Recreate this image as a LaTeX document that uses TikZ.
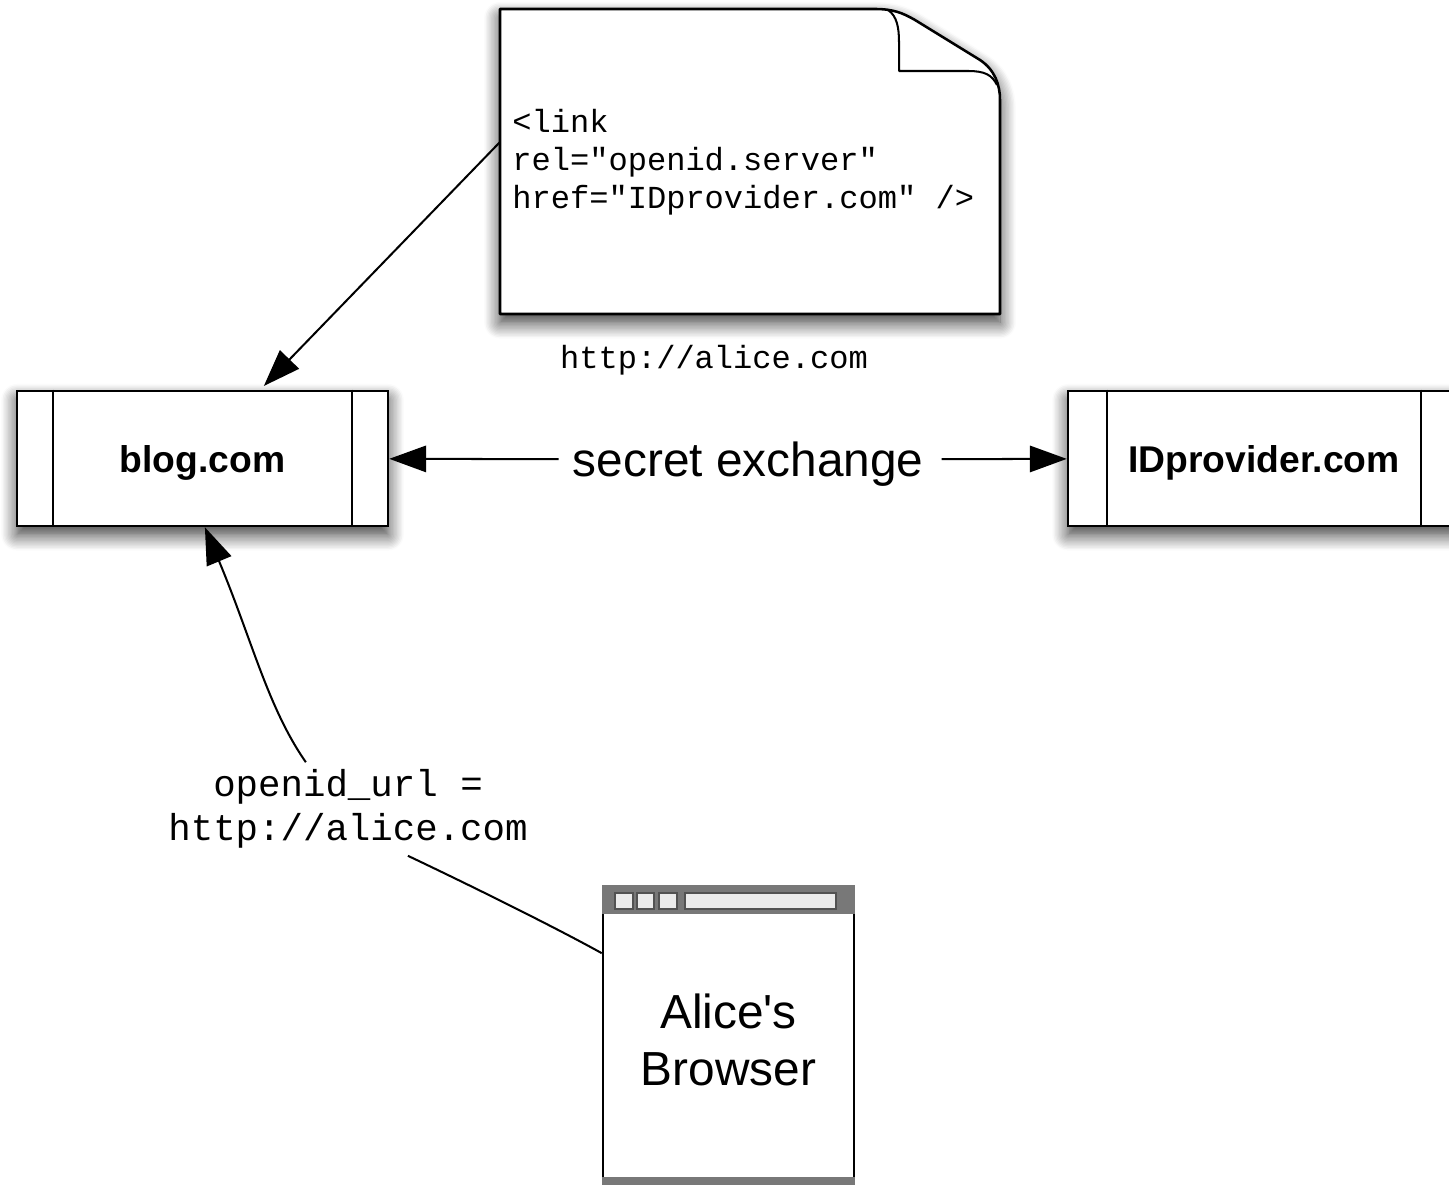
\documentclass[tikz,border=0pt]{standalone}
\usepackage{fontspec}
\setmainfont{Liberation Sans}
\setmonofont{Liberation Mono}
\newfontfamily\labelfont{Liberation Sans}
\usepackage{tikz}
\usetikzlibrary{calc}
\usetikzlibrary{arrows.meta}
\usetikzlibrary{shadows.blur}
\tikzset{
  boxline/.style={line width=1.45pt},
  softshadow/.style={blur shadow={shadow xshift=0pt, shadow yshift=-5pt, shadow blur radius=9pt, shadow opacity=80, shadow blur steps=12}},
  procbox/.style={boxline, draw, fill=white, softshadow, minimum height=2.7cm, inner sep=0pt, text height=18pt, text depth=2.6pt, font=\fontsize{21.2}{25}\selectfont\bfseries},
  flow/.style={draw=black, line width=1.15pt, -{Triangle[length=21pt, width=15pt, fill=black]}},
  codetext/.style={inner sep=0pt, align=left, font=\fontsize{18.25}{21.6}\selectfont\ttfamily},
  urltext/.style={inner xsep=0pt, inner ysep=4pt, align=center, font=\fontsize{21.3}{25}\selectfont\ttfamily},
  bigtext/.style={inner sep=0pt, align=center, font=\fontsize{27.2}{32}\selectfont\labelfont},
  barpart/.style={draw=black!68, line width=1pt, fill=black!8}
}
\begin{document}
\begin{tikzpicture}[x=0.02cm,y=-0.02cm]
\useasboundingbox (0,0) rectangle (1449,1185);

% page with the folded corner
\draw [boxline, fill=white, line join=round, softshadow] (500,9) -- (875,9) .. controls (893,9) and (903,13) .. (915,20)
  -- (980,60) .. controls (995,70) and (1000,85) .. (1000,100) -- (1000,314) -- (500,314) -- cycle;
\draw [line width=1.15pt, line join=round] (888,10) .. controls (897,16) and (899,28) .. (899,42) -- (899,71) -- (968,71)
  .. controls (985,71) and (992,75) .. (997,85);
\coordinate (pageedge) at (500,142);
\node [codetext, anchor=west] (pagetext) at (512,162) {<link\\rel="openid.server"\\href="IDprovider.com" />};
\node [codetext] (pageurl) at (714,360) {http://alice.com};

\node [procbox, minimum width=7.42cm] (blog) at (202.5,458.5) {blog.com};
\node [procbox, minimum width=7.84cm] (provider) at (1264,458.5) {IDprovider.com};
\foreach \n/\d in {blog/37, provider/40} {
  \draw [line width=1.15pt] ($(\n.north west)+(\d,0)$) -- ($(\n.south west)+(\d,0)$);
  \draw [line width=1.15pt] ($(\n.north east)+(-\d,0)$) -- ($(\n.south east)+(-\d,0)$);
}

\node [bigtext, text height=21pt, text depth=2.2pt] (secret) at (750,459.5) {\hspace*{8pt}secret exchange\hspace*{10pt}};
\draw [flow] (secret) -- (blog);
\draw [flow] (secret) -- (provider);

% browser window
\node [boxline, draw, fill=white, minimum width=5.02cm, minimum height=5.98cm, bigtext] (browser) at (728.5,1035.5) {\rule{0pt}{24.6pt}Alice's\\Browser};
\fill [black!53] (browser.north west) rectangle ($(browser.north east)+(0,29)$);
\fill [black!53] ($(browser.south west)+(0,-9)$) rectangle (browser.south east);
\foreach \x/\w in {615/18, 637/17, 659/18, 685/151} {\draw [barpart] (\x,893) rectangle +(\w,16);}

\node [urltext] (urllabel) at (348,809) {openid\_url =\\http://alice.com};

\draw [flow, shorten >=3pt] (pageedge) -- (blog.50);
\draw [flow] (urllabel.132) .. controls (268,708) and (252,640) .. (blog.272);
\draw [line width=1.15pt] (urllabel.-38) .. controls (480,890) and (560,930) .. (browser.147.5);

\end{tikzpicture}
\end{document}
